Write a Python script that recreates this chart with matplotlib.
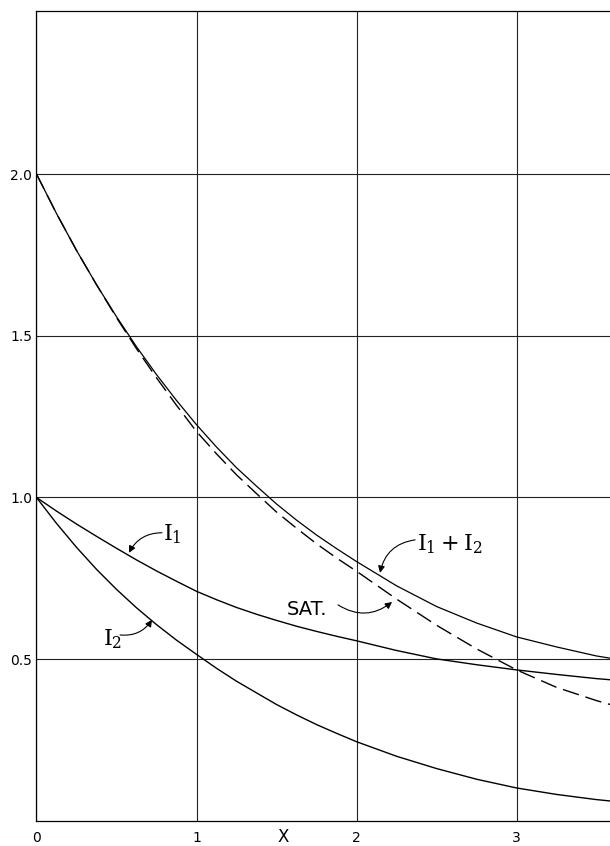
import matplotlib
matplotlib.use("Agg")
import matplotlib.pyplot as plt
from matplotlib.transforms import blended_transform_factory

plt.rcParams['mathtext.fontset'] = 'dejavuserif'

# values
x = [0, 0.125, 0.25, 0.375, 0.5, 0.625, 0.75, 0.875, 1.0, 1.125, 1.25, 1.375,
     1.5, 1.625, 1.75, 1.875, 2.0, 2.25, 2.5, 2.75, 3.0, 3.25, 3.5, 3.6]
i1 = [1.0, 0.958, 0.918, 0.880, 0.843, 0.807, 0.773, 0.741, 0.71, 0.684, 0.66, 0.639,
      0.62, 0.602, 0.586, 0.571, 0.557, 0.527, 0.501, 0.483, 0.467, 0.453, 0.44, 0.436]
i2 = [1.0, 0.92, 0.846, 0.778, 0.716, 0.659, 0.607, 0.559, 0.515, 0.472, 0.432, 0.396,
      0.36, 0.328, 0.298, 0.271, 0.245, 0.20, 0.162, 0.129, 0.102, 0.082, 0.066, 0.061]
i_sum = [2.0, 1.878, 1.764, 1.658, 1.559, 1.466, 1.38, 1.30, 1.225, 1.156, 1.092, 1.035,
         0.98, 0.93, 0.884, 0.842, 0.802, 0.727, 0.663, 0.612, 0.569, 0.538, 0.51, 0.502]
sat = [2.0, 1.878, 1.764, 1.658, 1.556, 1.46, 1.37, 1.285, 1.204, 1.135, 1.07, 1.012,
       0.955, 0.905, 0.857, 0.813, 0.772, 0.686, 0.605, 0.532, 0.467, 0.413, 0.372, 0.358]

xticks = [0, 1, 2, 3]
xtick_labels = ['0', '1', '2', '3']
yticks = [0.5, 1.0, 1.5, 2.0]
ytick_labels = ['0.5', '1.0', '1.5', '2.0']

fig = plt.figure(figsize=(6.10, 8.46), dpi=100)
ax = fig.add_axes([0.0598, 0.0296, 0.9402, 0.9578])

ax.plot(x, i1, color='black', lw=1.0)
ax.plot(x, i2, color='black', lw=1.0)
ax.plot(x, i_sum, color='black', lw=0.9)
ax.plot(x, sat, color='black', lw=1.0, dashes=(12, 5))

ax.set_xlim(0, 3.584)
ax.set_ylim(0, 2.505)
ax.set_xticks(xticks)
ax.set_xticklabels(xtick_labels)
ax.set_yticks(yticks)
ax.set_yticklabels(ytick_labels)
ax.tick_params(axis='both', length=0, labelsize=10)
ax.tick_params(axis='y', pad=3)
ax.tick_params(axis='x', pad=7)
ax.grid(True, color='#222222', lw=0.8)
ax.set_axisbelow(True)
for s in ['left', 'bottom', 'top']:
    ax.spines[s].set_linewidth(0.9)
ax.spines['right'].set_visible(False)

trans = blended_transform_factory(ax.transData, ax.transData)
ax.text(1.54, -0.05, 'X', transform=trans, ha='center', va='center',
        fontsize=12, clip_on=False)

# curve labels
ax.text(0.79, 0.866, r'$\mathrm{I}_1$', fontsize=16, ha='left', va='baseline')
ax.text(0.415, 0.544, r'$\mathrm{I}_2$', fontsize=16, ha='left', va='baseline')
ax.text(2.38, 0.835, r'$\mathrm{I}_1 + \mathrm{I}_2$', fontsize=16, ha='left', va='baseline')
ax.text(1.564, 0.637, 'SAT.', fontsize=14, ha='left', va='baseline')

arrow = dict(arrowstyle='-|>', color='black', lw=0.8, mutation_scale=10,
             shrinkA=0, shrinkB=0)
ax.annotate('', xy=(0.578, 0.829), xytext=(0.784, 0.891),
            arrowprops=dict(arrow, connectionstyle='arc3,rad=0.3'))
ax.annotate('', xy=(0.722, 0.622), xytext=(0.522, 0.575),
            arrowprops=dict(arrow, connectionstyle='arc3,rad=0.3'))
ax.annotate('', xy=(2.147, 0.767), xytext=(2.366, 0.869),
            arrowprops=dict(arrow, connectionstyle='arc3,rad=0.35'))
ax.annotate('', xy=(2.222, 0.677), xytext=(1.884, 0.668),
            arrowprops=dict(arrow, connectionstyle='arc3,rad=0.35'))

fig.savefig('out.png', dpi=100)
